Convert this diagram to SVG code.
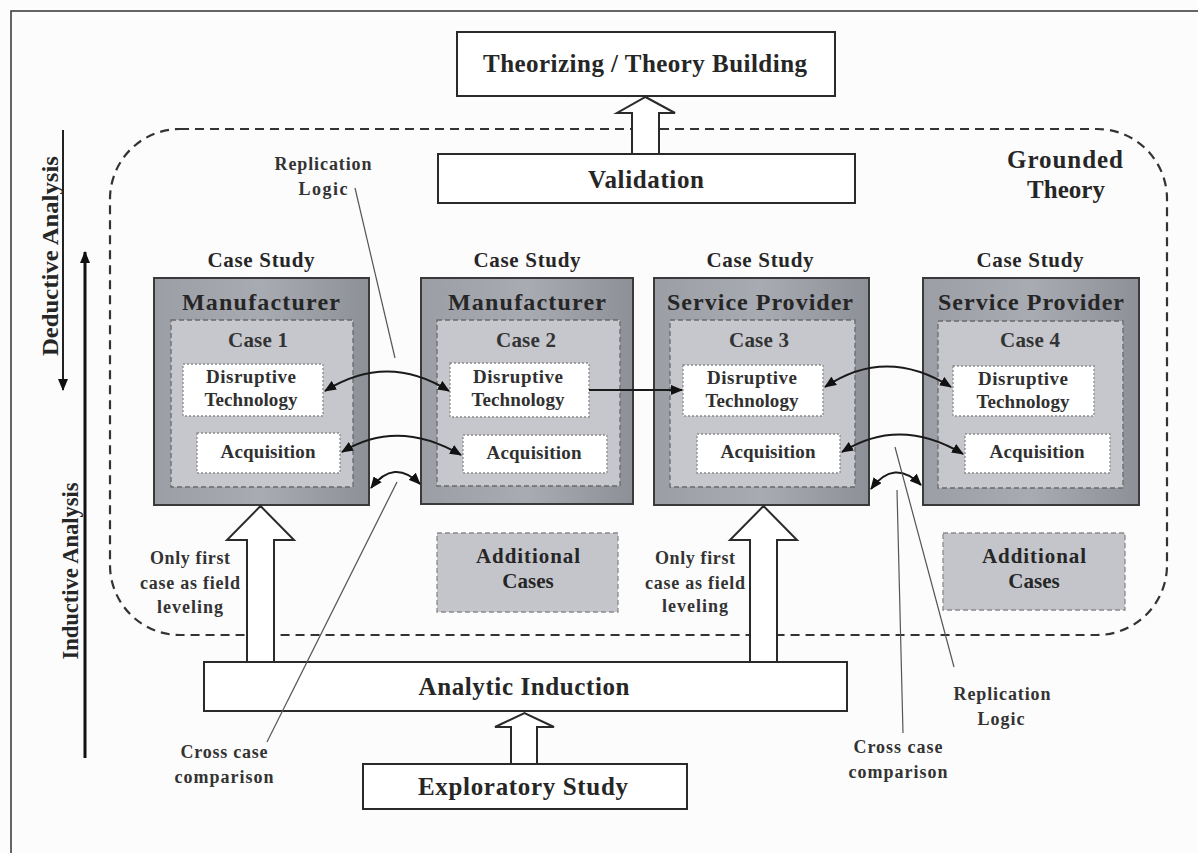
<svg xmlns="http://www.w3.org/2000/svg" width="1198" height="853" viewBox="0 0 1198 853">
  <style>
    text { font-family: "Liberation Serif", "Times New Roman", serif; font-weight: bold; fill: #262626; text-anchor: middle; }
    .plain { fill: #ffffff; stroke: #2a2a2a; stroke-width: 2; }
    .block { fill: #ffffff; stroke: #2a2a2a; stroke-width: 2; stroke-linejoin: miter; }
    .outer { fill: url(#caseGrad); stroke: #3a3a3a; stroke-width: 2; }
    .inner { fill: #c5c7cd; stroke: #6a6a6a; stroke-width: 1.3; stroke-dasharray: 5 3; }
    .leaf { fill: #ffffff; stroke: #8a8a8a; stroke-width: 1.3; stroke-dasharray: 2 2; }
    .extra { fill: #c3c5cb; stroke: #8a8a8a; stroke-width: 1.3; stroke-dasharray: 5 3; }
    .link { fill: none; stroke: #1a1a1a; stroke-width: 2; }
    .lead { fill: none; stroke: #555; stroke-width: 1.2; }
    .big { font-size: 25px; }
    .head { font-size: 24px; }
    .cs { font-size: 21px; }
    .num { font-size: 21px; fill: #333; }
    .sub { font-size: 19px; fill: #303030; }
    .note { font-size: 18px; fill: #333; }
  </style>
  <defs>
    <linearGradient id="caseGrad" x1="0" y1="0" x2="1" y2="0">
      <stop offset="0" stop-color="#9c9ea5"/>
      <stop offset="0.5" stop-color="#a9abb2"/>
      <stop offset="1" stop-color="#8e9097"/>
    </linearGradient>
    <marker id="ah" viewBox="0 0 12 10" refX="11" refY="5" markerWidth="12" markerHeight="10" markerUnits="userSpaceOnUse" orient="auto-start-reverse">
      <path d="M0,0 L12,5 L0,10 z" fill="#111"/>
    </marker>
  </defs>

  <rect width="1198" height="853" fill="#fcfcfc"/>
  <path d="M11,853 V11 H1198" fill="none" stroke="#333" stroke-width="1.5"/>

  <!-- Grounded theory boundary -->
  <g id="grounded-theory">
    <rect x="110" y="129" width="1057" height="506" rx="70" ry="70" fill="none" stroke="#333" stroke-width="2.2" stroke-dasharray="9 6"/>
    <text class="big" x="1065" y="168" textLength="116">Grounded</text>
    <text class="big" x="1066" y="198">Theory</text>
  </g>

  <!-- Side axes -->
  <g id="deductive-analysis">
    <line x1="63" y1="130" x2="63" y2="390" stroke="#222" stroke-width="2" marker-end="url(#ah)"/>
    <text transform="translate(58,256) rotate(-90)" font-size="23" textLength="200" lengthAdjust="spacingAndGlyphs">Deductive Analysis</text>
  </g>
  <g id="inductive-analysis">
    <line x1="85" y1="758" x2="85" y2="252" stroke="#111" stroke-width="3" marker-end="url(#ah)"/>
    <text transform="translate(78,571) rotate(-90)" font-size="23" textLength="177" lengthAdjust="spacingAndGlyphs">Inductive Analysis</text>
  </g>

  <!-- Top boxes -->
  <g id="theorizing">
    <rect class="plain" x="457" y="32" width="378" height="64"/>
    <text class="big" x="645" y="72" textLength="324">Theorizing / Theory Building</text>
  </g>
  <g id="validation">
    <rect class="plain" x="438" y="154" width="417" height="49"/>
    <text class="big" x="646" y="188" textLength="116">Validation</text>
  </g>

  <!-- Case study 1 -->
  <g id="case1">
    <text class="cs" x="261" y="267" textLength="107">Case Study</text>
    <rect class="outer" x="154" y="278" width="215" height="227"/>
    <text class="head" x="261" y="310" textLength="158">Manufacturer</text>
    <rect class="inner" x="171" y="320" width="182" height="167"/>
    <text class="num" x="258" y="347" textLength="60">Case 1</text>
    <rect class="leaf" x="183" y="364" width="140" height="52"/>
    <text class="sub" x="251" y="383" textLength="90">Disruptive</text>
    <text class="sub" x="251" y="406" textLength="93">Technology</text>
    <rect class="leaf" x="197" y="433" width="143" height="40"/>
    <text class="sub" x="268" y="458" textLength="95">Acquisition</text>
  </g>

  <!-- Case study 2 -->
  <g id="case2">
    <text class="cs" x="527" y="267" textLength="107">Case Study</text>
    <rect class="outer" x="421" y="278" width="212" height="226"/>
    <text class="head" x="527" y="310" textLength="158">Manufacturer</text>
    <rect class="inner" x="437" y="320" width="183" height="166"/>
    <text class="num" x="526" y="347" textLength="60">Case 2</text>
    <rect class="leaf" x="450" y="363" width="139" height="54"/>
    <text class="sub" x="518" y="383" textLength="90">Disruptive</text>
    <text class="sub" x="518" y="406" textLength="93">Technology</text>
    <rect class="leaf" x="463" y="435" width="144" height="38"/>
    <text class="sub" x="534" y="459" textLength="95">Acquisition</text>
  </g>

  <!-- Case study 3 -->
  <g id="case3">
    <text class="cs" x="760" y="267" textLength="107">Case Study</text>
    <rect class="outer" x="654" y="278" width="215" height="227"/>
    <text class="head" x="760" y="310" textLength="186">Service Provider</text>
    <rect class="inner" x="670" y="320" width="185" height="167"/>
    <text class="num" x="759" y="347" textLength="60">Case 3</text>
    <rect class="leaf" x="683" y="365" width="140" height="51"/>
    <text class="sub" x="752" y="384" textLength="90">Disruptive</text>
    <text class="sub" x="752" y="407" textLength="93">Technology</text>
    <rect class="leaf" x="697" y="434" width="143" height="39"/>
    <text class="sub" x="768" y="458" textLength="95">Acquisition</text>
  </g>

  <!-- Case study 4 -->
  <g id="case4">
    <text class="cs" x="1030" y="267" textLength="107">Case Study</text>
    <rect class="outer" x="923" y="278" width="216" height="227"/>
    <text class="head" x="1031" y="310" textLength="186">Service Provider</text>
    <rect class="inner" x="938" y="321" width="185" height="167"/>
    <text class="num" x="1030" y="347" textLength="60">Case 4</text>
    <rect class="leaf" x="953" y="366" width="141" height="50"/>
    <text class="sub" x="1023" y="385" textLength="90">Disruptive</text>
    <text class="sub" x="1023" y="408" textLength="93">Technology</text>
    <rect class="leaf" x="965" y="434" width="145" height="39"/>
    <text class="sub" x="1037" y="458" textLength="95">Acquisition</text>
  </g>

  <!-- Additional cases -->
  <g id="additional-cases-a">
    <rect class="extra" x="437" y="533" width="181" height="79"/>
    <text class="cs" x="528" y="563" textLength="104">Additional</text>
    <text class="cs" x="528" y="588">Cases</text>
  </g>
  <g id="additional-cases-b">
    <rect class="extra" x="943" y="533" width="182" height="77"/>
    <text class="cs" x="1034" y="563" textLength="104">Additional</text>
    <text class="cs" x="1034" y="588">Cases</text>
  </g>

  <!-- Bottom boxes -->
  <g id="analytic-induction">
    <rect class="plain" x="204" y="662" width="643" height="49"/>
    <text class="big" x="524" y="695" textLength="211">Analytic Induction</text>
  </g>
  <g id="exploratory-study">
    <rect class="plain" x="363" y="764" width="324" height="45"/>
    <text class="big" x="523" y="795" textLength="210">Exploratory Study</text>
  </g>

  <!-- Notes -->
  <g id="notes">
    <text class="note" x="323" y="170" textLength="97">Replication</text>
    <text class="note" x="323" y="195" textLength="49">Logic</text>
    <text class="note" x="190" y="564" textLength="80">Only first</text>
    <text class="note" x="190" y="589" textLength="100">case as field</text>
    <text class="note" x="190" y="613" textLength="66">leveling</text>
    <text class="note" x="695" y="564" textLength="80">Only first</text>
    <text class="note" x="695" y="589" textLength="100">case as field</text>
    <text class="note" x="695" y="612" textLength="66">leveling</text>
    <text class="note" x="224" y="758" textLength="87">Cross case</text>
    <text class="note" x="224" y="783" textLength="99">comparison</text>
    <text class="note" x="898" y="753" textLength="89">Cross case</text>
    <text class="note" x="898" y="778" textLength="99">comparison</text>
    <text class="note" x="1002" y="700" textLength="97">Replication</text>
    <text class="note" x="1001" y="725" textLength="47">Logic</text>
  </g>

  <!-- Connectors -->
  <g id="connectors">
    <!-- block arrows -->
    <path class="block" d="M632,154 V113 H617 L645.5,97 L675,113 H659 V154 Z"/>
    <path class="block" d="M247,662 V540 H227 L260.5,506 L294,540 H274 V662 Z"/>
    <path class="block" d="M750,662 V540 H730 L763.5,506 L797,540 H777 V662 Z"/>
    <path class="block" d="M511,764 V727 H495 L524.5,713 L554,727 H537 V764 Z"/>

    <!-- case-to-case links -->
    <path class="link" d="M325,391 Q387,352 449,391" marker-start="url(#ah)" marker-end="url(#ah)"/>
    <path class="link" d="M342,452 Q398,418 461,455" marker-start="url(#ah)" marker-end="url(#ah)"/>
    <path class="link" d="M371,488 Q394,458 420,484" marker-start="url(#ah)" marker-end="url(#ah)"/>
    <path class="link" d="M589,390 L682,390" marker-end="url(#ah)"/>
    <path class="link" d="M825,387 Q886,346 951,387" marker-start="url(#ah)" marker-end="url(#ah)"/>
    <path class="link" d="M842,452 Q900,416 963,454" marker-start="url(#ah)" marker-end="url(#ah)"/>
    <path class="link" d="M871,489 Q894,458 921,485" marker-start="url(#ah)" marker-end="url(#ah)"/>

    <!-- label leaders -->
    <line class="lead" x1="355" y1="188" x2="395" y2="358"/>
    <line class="lead" x1="397" y1="482" x2="267" y2="742"/>
    <line class="lead" x1="897" y1="490" x2="903" y2="733"/>
    <line class="lead" x1="895" y1="447" x2="954" y2="667"/>
  </g>
</svg>
